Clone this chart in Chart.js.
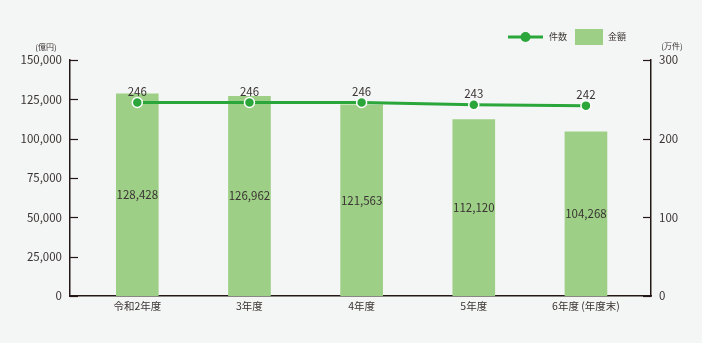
<!DOCTYPE html>
<html>
<head>
<meta charset="utf-8">
<script src="https://cdn.jsdelivr.net/npm/chart.js@4/dist/chart.umd.min.js"></script>
<style>
  html, body { margin: 0; padding: 0; background: #f4f6f5; }
  #wrap { width: 702px; height: 343px; position: relative; }
</style>
</head>
<body>
<div id="wrap"><canvas id="chart" width="702" height="343"></canvas></div>
<script>
// data
const categories = ['令和2年度', '3年度', '4年度', '5年度', '6年度 (年度末)'];
const amounts = [128428, 126962, 121563, 112120, 104268];   // 金額 (億円)
const counts = [246, 246, 246, 243, 242];                   // 件数 (万件)
const leftTicks = [0, 25000, 50000, 75000, 100000, 125000, 150000];
const rightTicks = [0, 100, 200, 300];

const FONT = '"Noto Sans CJK JP", "Noto Sans", sans-serif';
const TEXT = '#3a3333';
const AXIS = '#231815';
const BAR = '#9dcf86';
const LINE = '#2aa63a';

const fmt = v => v.toLocaleString('en-US');

// small inward tick marks, drawn from the scales
const innerTicks = {
    id: 'innerTicks',
    afterDatasetsDraw(chart) {
        const ctx = chart.ctx;
        const yl = chart.scales.y, yr = chart.scales.y2;
        ctx.save();
        ctx.strokeStyle = AXIS;
        ctx.lineWidth = 1.2;
        leftTicks.forEach(v => {
            const y = Math.round(yl.getPixelForValue(v)) + 0.5;
            ctx.beginPath(); ctx.moveTo(yl.right, y); ctx.lineTo(yl.right + 8, y); ctx.stroke();
        });
        rightTicks.forEach(v => {
            const y = Math.round(yr.getPixelForValue(v)) + 0.5;
            ctx.beginPath(); ctx.moveTo(yr.left, y); ctx.lineTo(yr.left - 8, y); ctx.stroke();
        });
        ctx.restore();
    }
};

// value labels, unit titles and legend
const labelsPlugin = {
    id: 'labelsPlugin',
    afterDraw(chart) {
        const ctx = chart.ctx;
        ctx.save();
        ctx.fillStyle = TEXT;
        ctx.textAlign = 'center';
        ctx.textBaseline = 'middle';
        ctx.font = '11.5px ' + FONT;
        chart.getDatasetMeta(1).data.forEach((bar, i) => {
            const mid = (bar.y + bar.base) / 2;
            ctx.fillText(fmt(amounts[i]), bar.x, mid);
        });
        chart.getDatasetMeta(0).data.forEach((pt, i) => {
            ctx.fillText(String(counts[i]), pt.x, pt.y - 11);
        });

        ctx.font = '8px ' + FONT;
        ctx.textAlign = 'center';
        ctx.fillText('(億円)', 46, 47);
        ctx.fillText('(万件)', 672, 46);

        // legend
        ctx.strokeStyle = LINE;
        ctx.lineWidth = 3;
        ctx.beginPath(); ctx.moveTo(508, 37); ctx.lineTo(543, 37); ctx.stroke();
        ctx.fillStyle = LINE;
        ctx.beginPath(); ctx.arc(525.5, 37, 5, 0, Math.PI * 2); ctx.fill();
        ctx.fillStyle = BAR;
        ctx.fillRect(575, 29, 28, 16);
        ctx.fillStyle = TEXT;
        ctx.font = '9px ' + FONT;
        ctx.textAlign = 'left';
        ctx.fillText('件数', 549, 37);
        ctx.fillText('金額', 608, 37);
        ctx.restore();
    }
};

new Chart(document.getElementById('chart'), {
    data: {
        datasets: [
            {
                type: 'line',
                label: '件数',
                data: counts.map((v, i) => ({ x: i, y: v })),
                yAxisID: 'y2',
                borderColor: LINE,
                borderWidth: 3,
                backgroundColor: LINE,
                pointRadius: 5,
                pointBorderColor: '#ffffff',
                pointBorderWidth: 1.5,
                tension: 0,
                order: 0
            },
            {
                type: 'bar',
                label: '金額',
                data: amounts.map((v, i) => ({ x: i, y: v })),
                yAxisID: 'y',
                backgroundColor: BAR,
                barThickness: 42,
                order: 1
            }
        ]
    },
    options: {
        responsive: false,
        animation: false,
        layout: { padding: { top: 60, right: 0, left: 0, bottom: 0 } },
        plugins: { legend: { display: false }, tooltip: { enabled: false } },
        scales: {
            x: {
                type: 'linear',
                offset: false,
                min: -0.6,
                max: 4.58,
                afterBuildTicks: s => { s.ticks = categories.map((c, i) => ({ value: i })); },
                afterFit: s => { s.height = 47; },
                grid: { display: false, drawTicks: false, offset: false },
                border: { color: AXIS, width: 1.5 },
                ticks: {
                    callback: v => categories[v],
                    color: TEXT,
                    padding: 4,
                    maxRotation: 0,
                    autoSkip: false,
                    font: { family: FONT, size: 10.5 }
                }
            },
            y: {
                position: 'left',
                min: 0,
                max: 150000,
                afterBuildTicks: s => { s.ticks = leftTicks.map(v => ({ value: v })); },
                afterFit: s => { s.width = 70; },
                grid: { display: false, drawTicks: false },
                border: { color: AXIS, width: 1.5 },
                ticks: {
                    callback: v => fmt(v),
                    color: TEXT,
                    padding: 8,
                    font: { family: FONT, size: 11.5 }
                }
            },
            y2: {
                position: 'right',
                min: 0,
                max: 300,
                afterBuildTicks: s => { s.ticks = rightTicks.map(v => ({ value: v })); },
                afterFit: s => { s.width = 51; },
                grid: { display: false, drawTicks: false },
                border: { color: AXIS, width: 1.5 },
                ticks: {
                    color: TEXT,
                    padding: 8,
                    font: { family: FONT, size: 11.5 }
                }
            }
        }
    },
    plugins: [innerTicks, labelsPlugin]
});
</script>
</body>
</html>
